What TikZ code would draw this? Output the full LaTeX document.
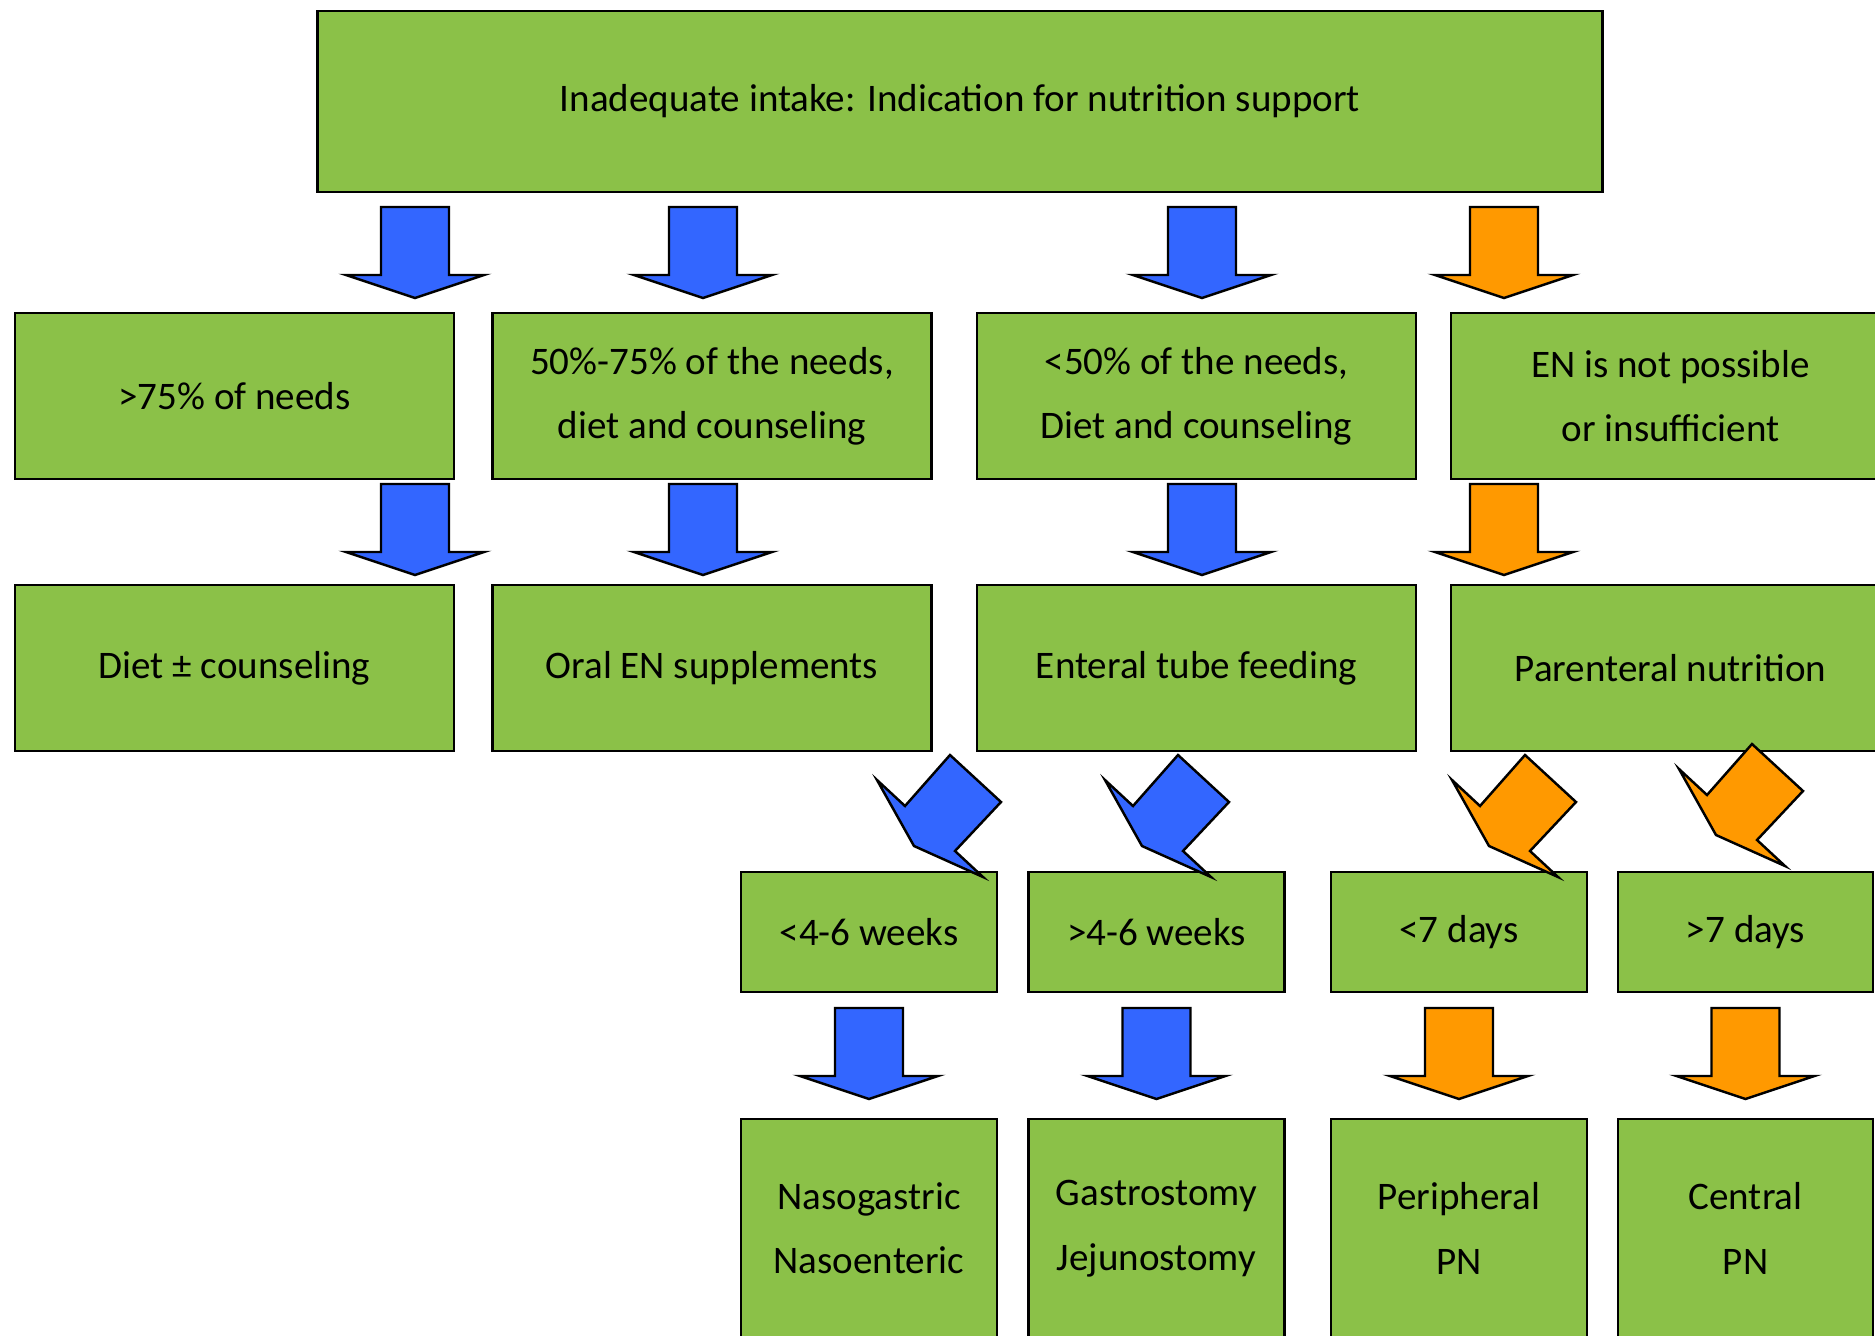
\documentclass[tikz,border=0pt]{standalone}
\usepackage{fontspec}
\setmainfont{Carlito}
\definecolor{boxgreen}{RGB}{139,193,72}
\definecolor{enblue}{RGB}{51,102,255}
\definecolor{pnorange}{RGB}{255,153,0}

% straight block arrow: centre x, top y, colour
\newcommand{\dnarrow}[3]{%
  \filldraw[fill=#3, shift={(#1,#2)}] (-34,0) -- (34,0) -- (34,68) -- (69,68)
    -- (0,91) -- (-69,68) -- (-34,68) -- cycle;}
% slanted block arrow: tip x, tip y, colour
\newcommand{\slantarrow}[3]{%
  \filldraw[fill=#3, shift={(#1,#2)}] (0,0) -- (-28,-26) -- (18,-75) -- (-33,-122)
    -- (-78,-71) -- (-106,-97) -- (-69,-31) -- cycle;}

\begin{document}
\begin{tikzpicture}[x=0.01cm, y=-0.01cm, line width=0.7pt,
    box/.style={draw, fill=boxgreen, inner sep=0pt, align=center,
      font=\fontsize{11.1}{18.3}\selectfont},
    needbox/.style={box, minimum width=4.39cm, minimum height=1.66cm},
    timebox/.style={box, minimum width=2.56cm, minimum height=1.2cm},
    routebox/.style={box, minimum width=2.56cm, minimum height=2.19cm}]
    \useasboundingbox (0,0) rectangle (1875,1336);
    \clip (0,0) rectangle (1875,1336);

    \node[box, minimum width=12.84cm, minimum height=1.81cm] (intake) at (960,101.5)
        {Inadequate intake: Indication for nutrition support};

    % first row
    \node[needbox] (need1) at (234.5,396) {>75\% of needs};
    \node[needbox] (need2) at (712,396) {50\%-75\% of the needs,\\ diet and counseling};
    \node[needbox] (need3) at (1196.5,396) {<50\% of the needs,\\ Diet and counseling};
    \node[needbox] (need4) at (1670.5,396) {EN is not possible\\ or insufficient};

    % second row
    \node[needbox] (diet) at (234.5,668) {Diet ± counseling};
    \node[needbox] (oral) at (712,668) {Oral EN supplements};
    \node[needbox] (tube) at (1196.5,668) {Enteral tube feeding};
    \node[needbox] (paren) at (1670.5,668) {Parenteral nutrition};

    % third row
    \node[timebox] (short) at (869,932) {<4-6 weeks};
    \node[timebox] (long) at (1156.5,932) {>4-6 weeks};
    \node[timebox] (few) at (1459,932) {<7 days};
    \node[timebox, minimum width=2.55cm] (many) at (1745.5,932) {>7 days};

    % fourth row
    \node[routebox] (naso) at (869,1228.5) {Nasogastric\\ Nasoenteric};
    \node[routebox] (ostomy) at (1156.5,1228.5) {Gastrostomy\\ Jejunostomy};
    \node[routebox] (periph) at (1459,1228.5) {Peripheral\\ PN};
    \node[routebox, minimum width=2.55cm] (central) at (1745.5,1228.5) {Central\\ PN};

    \foreach \x/\c in {415/enblue, 703/enblue, 1202/enblue, 1504/pnorange} {
        \dnarrow{\x}{207}{\c}
        \dnarrow{\x}{484}{\c}
    }
    \foreach \x/\c in {869/enblue, 1156.5/enblue, 1459/pnorange, 1745.5/pnorange} {
        \dnarrow{\x}{1008}{\c}
    }

    \slantarrow{983}{877}{enblue}
    \slantarrow{1211}{877}{enblue}
    \slantarrow{1558}{877}{pnorange}
    \slantarrow{1785}{866}{pnorange}
\end{tikzpicture}
\end{document}
